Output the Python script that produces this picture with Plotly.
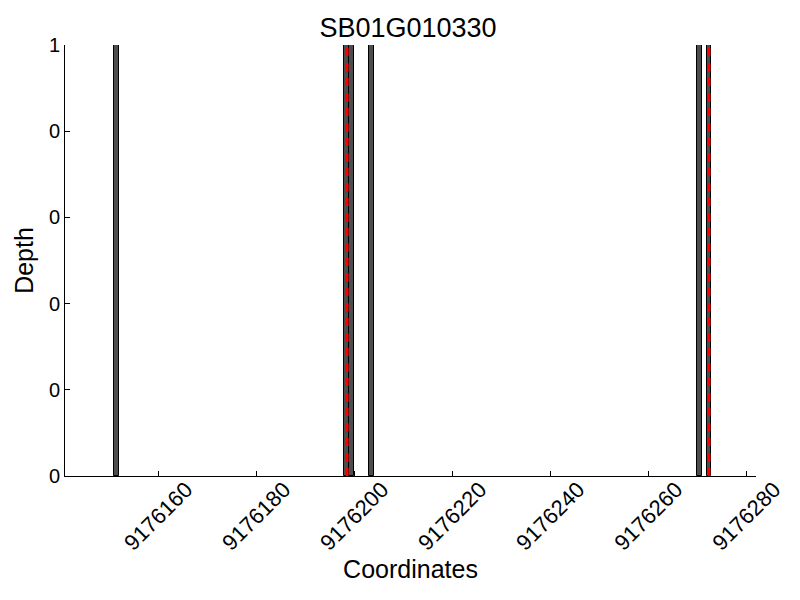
"""Read depth plot for a single gene region."""

import plotly.graph_objects as go

gene_name = "SB01G010330"
bar_positions = [9176151.5, 9176198.5, 9176199.5, 9176203.5, 9176270.4, 9176272.4]
bar_depths = [1, 1, 1, 1, 1, 1]
marker_positions = [9176198.55, 9176272.4]
y_tick_values = [0, 0.2, 0.4, 0.6, 0.8, 1]
y_tick_labels = ["0", "0", "0", "0", "0", "1"]
x_tick_values = [9176160, 9176180, 9176200, 9176220, 9176240, 9176260, 9176280]

FONT = "Liberation Sans, Arial, sans-serif"

fig = go.Figure()
fig.add_trace(
    go.Bar(
        x=bar_positions,
        y=bar_depths,
        width=1,
        marker={"color": "#4d4d4d", "line": {"color": "#000000", "width": 1}},
        showlegend=False,
    )
)
for pos in marker_positions:
    fig.add_trace(
        go.Scatter(
            x=[pos, pos],
            y=[0, 1],
            mode="lines",
            line={"color": "#ff0000", "width": 3, "dash": "8px,7px"},
            showlegend=False,
        )
    )

# the page body adds an 8px offset, so margins are shifted to compensate
fig.update_layout(
    width=800,
    height=600,
    plot_bgcolor="white",
    paper_bgcolor="white",
    margin={"l": 57, "r": 52, "t": 37, "b": 132},
    title={
        "text": gene_name,
        "x": 0.5,
        "xanchor": "center",
        "y": 0.967,
        "yanchor": "middle",
        "font": {"family": FONT, "size": 27, "color": "black"},
    },
    font={"family": FONT, "color": "black"},
    bargap=0,
)
fig.update_xaxes(
    range=[9176141, 9176282],
    tickvals=x_tick_values,
    tickformat="d",
    tickangle=-45,
    ticklabelshift=28,
    ticklabelstandoff=-9,
    ticks="inside",
    ticklen=5,
    tickcolor="black",
    tickfont={"size": 22},
    showline=True,
    linecolor="black",
    linewidth=1,
    showgrid=False,
    zeroline=False,
    automargin=False,
    title={"text": "Coordinates", "font": {"size": 25}, "standoff": 0},
)
fig.update_yaxes(
    range=[0, 1],
    tickvals=y_tick_values,
    ticktext=y_tick_labels,
    ticks="inside",
    ticklen=5,
    tickcolor="black",
    tickfont={"size": 20},
    showline=True,
    linecolor="black",
    linewidth=1,
    showgrid=False,
    zeroline=False,
    automargin=False,
    title={"text": "Depth", "font": {"size": 25}, "standoff": 8},
)

fig.write_html("out.html")
